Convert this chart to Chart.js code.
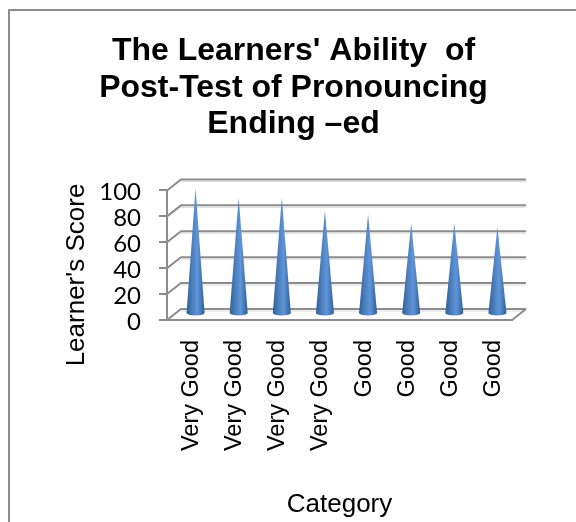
<!DOCTYPE html>
<html>
<head>
<meta charset="utf-8">
<script src="https://cdn.jsdelivr.net/npm/chart.js@4"></script>
<style>
html, body { margin: 0; padding: 0; background: #fff; overflow: hidden; }
#frame { position: absolute; left: 8px; top: 9px; width: 568px; height: 513px; border-left: 2px solid #8c8c8c; border-top: 2px solid #8c8c8c; overflow: hidden; }
canvas { display: block; }
</style>
</head>
<body>
<div id="frame"><canvas id="myChart" width="567" height="511"></canvas></div>
<script>
var categories = ["Very Good", "Very Good", "Very Good", "Very Good", "Good", "Good", "Good", "Good"];
var scores = [97, 90, 90, 80, 77, 70, 70, 67];
var titleLines = ["The Learners' Ability  of", "Post-Test of Pronouncing", "Ending \u2013ed"];
var yTitle = "Learner's Score";
var xTitle = "Category";

var gridGray = "#8c8c8c";
var depthX = 14, depthY = 11;

// back wall, floor and the diagonals that fake the 3d box
var wallPlugin = {
    id: "wall",
    afterLayout(chart) {
        // title is centred on the whole canvas, not on the padded box
        chart.titleBlock.right = chart.width;
    },
    beforeDatasetsDraw(chart) {
        const ctx = chart.ctx, y = chart.scales.y, area = chart.chartArea;
        ctx.save();
        y.ticks.forEach((t) => {
            const py = y.getPixelForValue(t.value);
            // soft shadow under the line
            ctx.strokeStyle = "#dcdcdc";
            ctx.lineWidth = 1;
            ctx.beginPath();
            ctx.moveTo(area.left + depthX, py - depthY + 2);
            ctx.lineTo(area.right + depthX, py - depthY + 2);
            ctx.stroke();
            ctx.strokeStyle = gridGray;
            ctx.lineWidth = 2;
            ctx.beginPath();
            ctx.moveTo(area.left, py);
            ctx.lineTo(area.left + depthX, py - depthY);
            ctx.lineTo(area.right + depthX, py - depthY);
            ctx.stroke();
        });
        ctx.beginPath();
        ctx.moveTo(area.right, area.bottom);
        ctx.lineTo(area.right + depthX, area.bottom - depthY);
        ctx.stroke();
        ctx.restore();
    },
    // cones sit half way into the box
    beforeDatasetDraw(chart, args) {
        const ctx = chart.ctx;
        args.meta.data.forEach((bar) => {
            const cx = bar.x + 7, base = bar.base - 6, tip = bar.y - 6, r = 9, ry = 2.5;
            const g = ctx.createLinearGradient(cx - r, 0, cx + r, 0);
            g.addColorStop(0, "#2f5f98");
            g.addColorStop(0.3, "#4a7dba");
            g.addColorStop(0.6, "#5f95da");
            g.addColorStop(0.85, "#4273ae");
            g.addColorStop(1, "#2f5f98");
            ctx.save();
            ctx.fillStyle = g;
            ctx.beginPath();
            ctx.moveTo(cx, tip);
            ctx.lineTo(cx + r, base);
            ctx.ellipse(cx, base, r, ry, 0, 0, Math.PI);
            ctx.closePath();
            ctx.fill();
            ctx.restore();
        });
        return false;
    },
    afterDraw(chart) {
        const ctx = chart.ctx;
        ctx.save();
        ctx.translate(67, 264);
        ctx.rotate(-Math.PI / 2);
        ctx.font = "26px 'Liberation Sans'";
        ctx.fillStyle = "#000";
        ctx.textAlign = "center";
        ctx.textBaseline = "middle";
        ctx.fillText(yTitle, 0, 0);
        ctx.restore();
    },
};

new Chart(document.getElementById("myChart").getContext("2d"), {
    type: "bar",
    data: {
        labels: categories,
        datasets: [{ label: "Learner's Score", data: scores, backgroundColor: "#4f81bd" }],
    },
    plugins: [wallPlugin],
    options: {
        responsive: false,
        animation: false,
        layout: { padding: { left: 0, right: 65, top: 0, bottom: 0 } },
        plugins: {
            legend: { display: false },
            tooltip: { enabled: false },
            title: {
                display: true,
                text: titleLines,
                color: "#000",
                font: { family: "'Liberation Sans'", size: 32, weight: "bold", lineHeight: 1.14 },
                padding: { top: 22, bottom: 48 },
            },
        },
        scales: {
            x: {
                grid: { display: false },
                border: { color: gridGray, width: 2 },
                ticks: {
                    autoSkip: false,
                    minRotation: 90,
                    maxRotation: 90,
                    padding: 12,
                    labelOffset: 3,
                    color: "#000",
                    font: { family: "'Liberation Sans'", size: 23.5 },
                },
                title: {
                    display: true,
                    text: xTitle,
                    color: "#000",
                    font: { family: "'Liberation Sans'", size: 26 },
                    padding: { top: 0, bottom: 2 },
                },
                afterFit(scale) { scale.height = 202; },
            },
            y: {
                min: 0,
                max: 100,
                grid: { drawOnChartArea: false, color: gridGray, lineWidth: 2, tickLength: 8 },
                border: { color: gridGray, width: 2 },
                ticks: {
                    autoSkip: false,
                    stepSize: 20,
                    padding: 18,
                    labelOffset: 2,
                    color: "#000",
                    font: { family: "Lato", size: 24 },
                },
                afterFit(scale) { scale.width = 157; },
            },
        },
    },
});
</script>
</body>
</html>
